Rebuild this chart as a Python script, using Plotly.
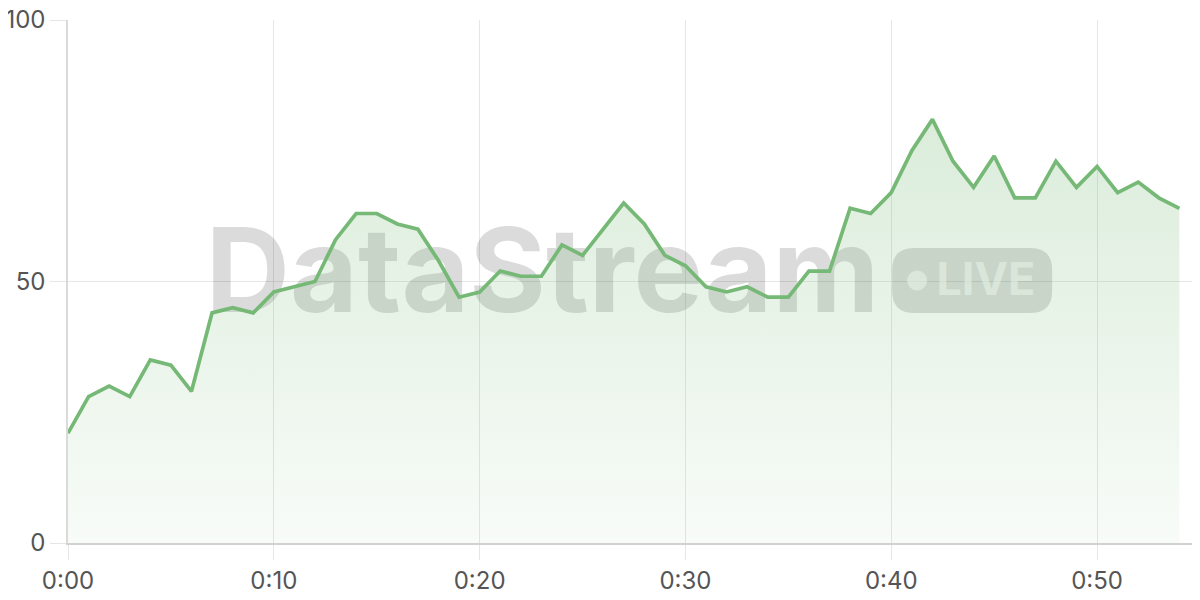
import plotly.graph_objects as go

minutes = list(range(55))
values = [21, 28, 30, 28, 35, 34, 29, 44, 45, 44,
          48, 49, 50, 58, 63, 63, 61, 60, 54, 47,
          48, 52, 51, 51, 57, 55, 60, 65, 61, 55,
          53, 49, 48, 49, 47, 47, 52, 52, 64, 63,
          67, 75, 81, 73, 68, 74, 66, 66, 73, 68,
          72, 67, 69, 66, 64]
x_tick_vals = [0, 10, 20, 30, 40, 50]
x_tick_text = ["0:00", "0:10", "0:20", "0:30", "0:40", "0:50"]
y_tick_vals = [0, 50, 100]

LINE = "#76b976"
FONT = "Inter, Roboto, sans-serif"

fig = go.Figure()
fig.add_trace(go.Scatter(
    x=minutes, y=values, mode="lines",
    line=dict(color=LINE, width=3.7),
    fill="tozeroy",
    fillgradient=dict(type="vertical", start=0, stop=85,
                      colorscale=[[0, "rgba(116,184,116,0.05)"],
                                  [1, "rgba(116,184,116,0.27)"]]),
    hoverinfo="skip", showlegend=False,
))

wm_color = "rgba(0,0,0,0.14)"
shapes = [
    # DataStream watermark text
    dict(type="rect", layer="between", xref="x", yref="y",
         x0=6.2, x1=39.9, y0=41, y1=65,
         line=dict(width=0), fillcolor="rgba(0,0,0,0)",
         label=dict(text="<b>DataStream</b>", textposition="middle center",
                    font=dict(family=FONT, size=117, color=wm_color))),
    # LIVE badge background
    dict(type="path", layer="between", xref="x", yref="y",
         xsizemode="pixel", ysizemode="pixel", xanchor=43.93, yanchor=50.2,
         path="M -58 -32.5 L 58 -32.5 Q 80 -32.5 80 -10.5 L 80 10.5 Q 80 32.5 58 32.5 "
              "L -58 32.5 Q -80 32.5 -80 10.5 L -80 -10.5 Q -80 -32.5 -58 -32.5 Z",
         line=dict(width=0), fillcolor=wm_color),
    # LIVE dot
    dict(type="circle", layer="between", xref="x", yref="y",
         xsizemode="pixel", ysizemode="pixel", xanchor=43.93, yanchor=50.2,
         x0=-65, x1=-45, y0=-10, y1=10,
         line=dict(width=0), fillcolor="rgba(255,255,255,0.6)"),
    # LIVE text
    dict(type="rect", layer="between", xref="x", yref="y",
         x0=42.0, x1=47.2, y0=44.5, y1=56.9,
         line=dict(width=0), fillcolor="rgba(0,0,0,0)",
         label=dict(text="<b>LIVE</b>", textposition="middle center",
                    font=dict(family=FONT, size=45, color="rgba(255,255,255,0.6)"))),
]

fig.update_layout(
    width=1200, height=600,
    margin=dict(l=60, r=0, t=12, b=65),
    paper_bgcolor="white", plot_bgcolor="white",
    font=dict(family=FONT, size=24, color="#555555"),
    shapes=shapes,
    xaxis=dict(range=[0, 55.39], tickvals=x_tick_vals, ticktext=x_tick_text,
               showgrid=True, gridcolor="#e6e6e6", gridwidth=1,
               ticks="outside", ticklen=15, tickcolor="#e6e6e6",
               showline=True, linecolor="#d2d2d2", linewidth=1.5,
               zeroline=False, fixedrange=True, automargin=False,
               ticklabeloverflow="allow"),
    yaxis=dict(range=[0, 100], tickvals=y_tick_vals,
               showgrid=True, gridcolor="#e6e6e6", gridwidth=1,
               ticks="outside", ticklen=16, tickcolor="#e6e6e6",
               showline=True, linecolor="#dadada", linewidth=1.5,
               zeroline=False, fixedrange=True, automargin=False,
               ticklabeloverflow="allow"),
)

fig.write_html("out.html")
